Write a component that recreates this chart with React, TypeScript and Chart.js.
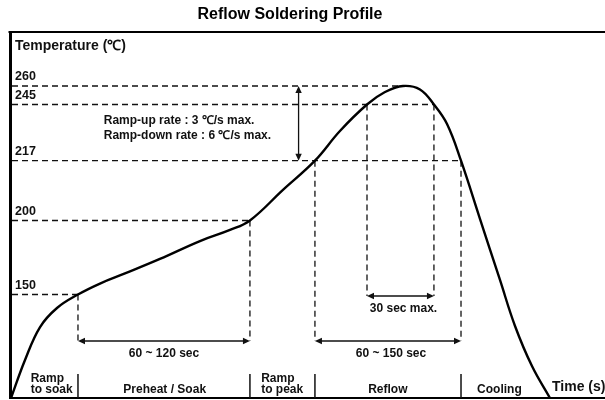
import React, { useEffect, useRef } from 'react';
import { Chart, LinearScale, registerables } from 'chart.js';

// ---------- data ----------
const titleText = 'Reflow Soldering Profile';
const yAxisLabel = 'Temperature (℃)';
const xAxisLabel = 'Time (s)';

// profile curve (time in s, schematic; temperature in ℃)
const profileTimes = [0.7, 10.1, 20.2, 31.6, 45.7, 60.5, 77.3, 100.8, 127.7, 147.9, 161.3, 183.5, 205, 221.8, 240, 252.1, 264.2, 275.6, 285, 293.8, 303.2, 316, 329.4, 339.5, 350.9, 363];
const profileTemps = [25, 70.9, 110.7, 133.7, 150, 157.4, 164.2, 174, 186.1, 193.6, 200, 208.7, 217, 231.8, 245, 255.1, 260, 257.2, 245, 235.3, 217, 200.4, 159.8, 112, 63.6, 25];

// labelled temperatures
const tempTicks = [150, 200, 217, 245, 260];

// schematic (non-linear) temperature axis breakpoints
const scaleTemps = [25, 150, 200, 217, 245, 260, 305];
const scaleFractions = [0, 0.2828, 0.485, 0.6484, 0.8019, 0.8525, 1];

// dashed guide lines: temperature and the time where they stop
const guideTemps = [260, 245, 217, 200, 150];
const guideEndTimes = [264.2, 285, 303.2, 161.3, 45.7];

// time spans
const spanFrom = [45.7, 205, 240];
const spanTo = [161.3, 303.2, 285];
const spanFromTemp = [150, 217, 245];
const spanToTemp = [200, 217, 245];
const spanLabels = ['60 ~ 120 sec', '60 ~ 150 sec', '30 sec max.'];
const spanLevel = ['low', 'low', 'high'];

// ramp rates
const rampLines = ['Ramp-up rate : 3 ℃/s max.', 'Ramp-down rate : 6 ℃/s max.'];
const rampArrowTime = 194;
const rampArrowTemps = [217, 260];
const rampTextTime = 63;

// zones
const zoneBounds = [45.7, 161.3, 205, 303.2];
const zoneLabels = [['Ramp', 'to soak'], ['Preheat / Soak'], ['Ramp', 'to peak'], ['Reflow'], ['Cooling']];
const zoneLabelTimes = [28, 104, 183, 254, 329];

// ---------- custom piecewise scale ----------
function tempToDecimal(v: number) {
  const n = scaleTemps.length;
  if (v <= scaleTemps[0]) {
    return scaleFractions[0] + (v - scaleTemps[0]) * (scaleFractions[1] - scaleFractions[0]) / (scaleTemps[1] - scaleTemps[0]);
  }
  for (let i = 1; i < n; i++) {
    if (v <= scaleTemps[i] || i === n - 1) {
      const f = (v - scaleTemps[i - 1]) / (scaleTemps[i] - scaleTemps[i - 1]);
      return scaleFractions[i - 1] + f * (scaleFractions[i] - scaleFractions[i - 1]);
    }
  }
  return 1;
}
function decimalToTemp(d: number) {
  const n = scaleFractions.length;
  for (let i = 1; i < n; i++) {
    if (d <= scaleFractions[i] || i === n - 1) {
      const f = (d - scaleFractions[i - 1]) / (scaleFractions[i] - scaleFractions[i - 1]);
      return scaleTemps[i - 1] + f * (scaleTemps[i] - scaleTemps[i - 1]);
    }
  }
  return scaleTemps[n - 1];
}

class PiecewiseScale extends LinearScale {
  static id = 'piecewise';
  getPixelForValue(value: any) {
    if (value === null || value === undefined) return NaN;
    return this.getPixelForDecimal(tempToDecimal(value));
  }
  getValueForPixel(pixel: number) {
    return decimalToTemp(this.getDecimalForPixel(pixel));
  }
}

Chart.register(...registerables, PiecewiseScale);

const FONT = '"Liberation Sans", Arial, Helvetica, sans-serif';
const INK = '#111';

function seg(ctx: CanvasRenderingContext2D, x1: number, y1: number, x2: number, y2: number) {
  ctx.beginPath();
  ctx.moveTo(x1, y1);
  ctx.lineTo(x2, y2);
  ctx.stroke();
}
function head(ctx: CanvasRenderingContext2D, x: number, y: number, ang: number) {
  const len = 7, half = 3.2;
  const c = Math.cos(ang), s = Math.sin(ang);
  ctx.beginPath();
  ctx.moveTo(x, y);
  ctx.lineTo(x - len * c + half * s, y - len * s - half * c);
  ctx.lineTo(x - len * c - half * s, y - len * s + half * c);
  ctx.closePath();
  ctx.fill();
}
function dblArrow(ctx: CanvasRenderingContext2D, x1: number, y1: number, x2: number, y2: number) {
  const ang = Math.atan2(y2 - y1, x2 - x1);
  const c = Math.cos(ang), s = Math.sin(ang);
  seg(ctx, x1 + 4 * c, y1 + 4 * s, x2 - 4 * c, y2 - 4 * s);
  head(ctx, x2, y2, ang);
  head(ctx, x1, y1, ang + Math.PI);
}

const annotations = {
  id: 'reflowAnnotations',
  beforeDatasetsDraw(chart: any) {
    const { ctx, chartArea: a, scales } = chart;
    const xs = scales.x, ys = scales.y;
    const px = (t: number) => xs.getPixelForValue(t);
    const py = (v: number) => ys.getPixelForValue(v);
    const lowY = a.bottom - 57;
    const highY = a.bottom - 102;
    ctx.save();
    // top frame line
    ctx.strokeStyle = '#000';
    ctx.lineWidth = 2;
    ctx.setLineDash([]);
    seg(ctx, a.left - 1.5, a.top, a.right, a.top);

    // dashed guides
    ctx.strokeStyle = INK;
    ctx.lineWidth = 1.3;
    ctx.setLineDash([6, 4]);
    guideTemps.forEach((tv, i) => {
      const yy = py(tv);
      seg(ctx, a.left + 2, yy, px(guideEndTimes[i]), yy);
    });
    spanFrom.forEach((f, i) => {
      const ly = spanLevel[i] === 'low' ? lowY : highY;
      seg(ctx, px(f), py(spanFromTemp[i]), px(f), ly);
      seg(ctx, px(spanTo[i]), py(spanToTemp[i]), px(spanTo[i]), ly);
    });
    ctx.setLineDash([]);

    // span arrows
    ctx.fillStyle = INK;
    ctx.lineWidth = 1.3;
    spanFrom.forEach((f, i) => {
      const ly = spanLevel[i] === 'low' ? lowY : highY;
      dblArrow(ctx, px(f), ly, px(spanTo[i]), ly);
    });
    // ramp arrow
    dblArrow(ctx, px(rampArrowTime), py(rampArrowTemps[1]), px(rampArrowTime), py(rampArrowTemps[0]));

    // zone separators
    ctx.lineWidth = 1.5;
    zoneBounds.forEach((t) => {
      seg(ctx, px(t), a.bottom - 24, px(t), a.bottom);
    });
    ctx.restore();
  },
  afterDatasetsDraw(chart: any) {
    const { ctx, chartArea: a, scales } = chart;
    const xs = scales.x, ys = scales.y;
    const px = (t: number) => xs.getPixelForValue(t);
    const py = (v: number) => ys.getPixelForValue(v);
    const lowY = a.bottom - 57;
    const highY = a.bottom - 102;
    ctx.save();
    ctx.fillStyle = INK;
    ctx.textBaseline = 'middle';

    // title
    ctx.font = `bold 16px ${FONT}`;
    ctx.textAlign = 'center';
    ctx.fillStyle = '#000';
    ctx.fillText(titleText, 290, 15);

    ctx.fillStyle = INK;
    // y axis label
    ctx.font = `bold 14px ${FONT}`;
    ctx.textAlign = 'left';
    ctx.fillText(yAxisLabel, a.left + 5, a.top + 14);

    // temperature labels
    ctx.font = `bold 12.5px ${FONT}`;
    tempTicks.forEach((tv) => {
      ctx.fillText(String(tv), a.left + 5, py(tv) - 9);
    });

    // ramp text
    ctx.font = `bold 12px ${FONT}`;
    const baseY = py(217);
    ctx.fillText(rampLines[0], px(rampTextTime), baseY - 40);
    ctx.fillText(rampLines[1], px(rampTextTime), baseY - 25);

    // span labels
    ctx.textAlign = 'center';
    spanFrom.forEach((f, i) => {
      const ly = spanLevel[i] === 'low' ? lowY : highY;
      ctx.fillText(spanLabels[i], (px(f) + px(spanTo[i])) / 2 + (i > 0 ? 3 : 0), ly + 12.5);
    });

    // zone labels
    ctx.textAlign = 'left';
    zoneLabels.forEach((lines, i) => {
      const w = Math.max(...lines.map((l) => ctx.measureText(l).width));
      const left = px(zoneLabelTimes[i]) - w / 2;
      if (lines.length === 2) {
        ctx.fillText(lines[0], left, a.bottom - 19.5);
        ctx.fillText(lines[1], left, a.bottom - 8.5);
      } else {
        ctx.fillText(lines[0], left, a.bottom - 8.5);
      }
    });

    // x axis label
    ctx.font = `bold 14px ${FONT}`;
    ctx.fillText(xAxisLabel, a.right - 53, a.bottom - 11);
    ctx.restore();
  },
};

export default function App() {
  const ref = useRef<HTMLCanvasElement>(null);
  useEffect(() => {
    document.body.style.margin = '0';
    Chart.defaults.font.family = FONT;
    const chart = new Chart(ref.current as HTMLCanvasElement, {
      type: 'line',
      data: {
        datasets: [
          {
            data: profileTimes.map((t, i) => ({ x: t, y: profileTemps[i] })),
            borderColor: '#000',
            borderWidth: 2.4,
            pointRadius: 0,
            fill: false,
            tension: 0.4,
          } as any,
        ],
      },
      options: {
        animation: false,
        responsive: false,
        layout: { padding: { left: 10, top: 32, right: 0, bottom: 2 } },
        plugins: { legend: { display: false }, tooltip: { enabled: false }, title: { display: false } },
        scales: {
          x: {
            type: 'linear',
            min: 0,
            max: 400,
            grid: { display: false, drawTicks: false },
            ticks: { display: false },
            border: { display: true, color: '#000', width: 2 },
          },
          y: {
            type: 'piecewise' as any,
            min: 25,
            max: 305,
            grid: { display: false, drawTicks: false },
            ticks: { display: false },
            border: { display: true, color: '#000', width: 3 },
          } as any,
        },
      },
      plugins: [annotations],
    });
    return () => chart.destroy();
  }, []);
  return (
    <div style={{ width: 605, height: 400 }}>
      <canvas ref={ref} width={605} height={400} style={{ display: 'block' }} />
    </div>
  );
}
